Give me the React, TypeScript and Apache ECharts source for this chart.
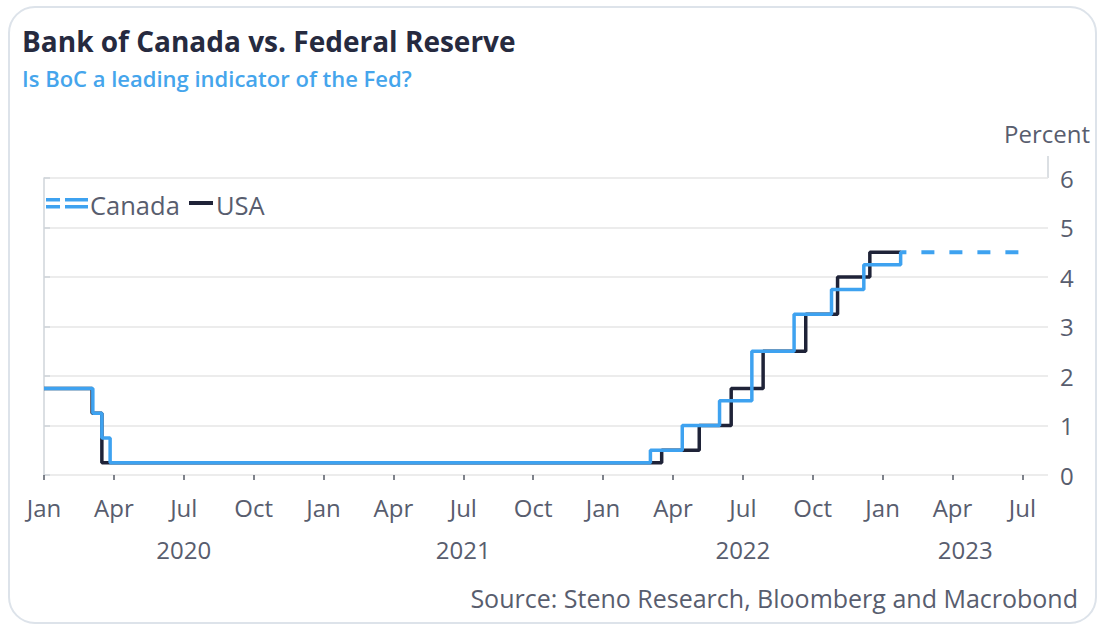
import React, { useEffect, useRef } from "react";
import * as echarts from "echarts";

const QUARTER_LABELS = ["Jan", "Apr", "Jul", "Oct"];
const YEAR_LABELS = ["2020", "2021", "2022", "2023"];

const canadaDates = [
  "2020-01-01", "2020-03-04", "2020-03-16", "2020-03-27", "2022-03-02", "2022-04-13",
  "2022-06-01", "2022-07-13", "2022-09-07", "2022-10-26", "2022-12-07", "2023-01-25", "2023-01-26",
];
const canadaRates = [1.75, 1.25, 0.75, 0.25, 0.5, 1.0, 1.5, 2.5, 3.25, 3.75, 4.25, 4.5, 4.5];

const canadaForecastDates = ["2023-01-26", "2023-07-05"];
const canadaForecastRates = [4.5, 4.5];

const usaDates = [
  "2020-01-01", "2020-03-03", "2020-03-16", "2022-03-17", "2022-05-05", "2022-06-16",
  "2022-07-28", "2022-09-22", "2022-11-03", "2022-12-15", "2023-01-26",
];
const usaRates = [1.75, 1.25, 0.25, 0.5, 1.0, 1.75, 2.5, 3.25, 4.0, 4.5, 4.5];

const X_MIN = 0;
const X_MAX = 43.1;

function toMonth(s: string): number {
  const [y, m, d] = s.split("-").map(Number);
  const dim = new Date(y, m, 0).getDate();
  return (y - 2020) * 12 + (m - 1) + (d - 1) / dim;
}

function pairs(dates: string[], vals: number[]) {
  return dates.map((d, i) => [toMonth(d), vals[i]]);
}

const BLUE = "#3ea2f0";
const NAVY = "#1f2338";
const LABEL = "#585d6e";
const FONT = "'Open Sans', 'Noto Sans', sans-serif";

export default function App() {
  const ref = useRef<HTMLDivElement>(null);
  useEffect(() => {
    if (!ref.current) return;
    const chart = echarts.init(ref.current, undefined, { renderer: "svg" });
    const quarterTicks: number[] = [];
    for (let v = 0; v <= X_MAX; v += 3) quarterTicks.push(v);
    const yearCenters = YEAR_LABELS.map((_, i) => {
      const s = i * 12;
      const e = Math.min((i + 1) * 12, X_MAX);
      return (s + e) / 2;
    });
    chart.setOption({
      animation: false,
      backgroundColor: "#ffffff",
      textStyle: { fontFamily: FONT },
      grid: { left: 44, right: 54, top: 178, bottom: 153, containLabel: false },
      xAxis: [
        {
          type: "value",
          min: X_MIN,
          max: X_MAX,
          interval: 3,
          axisLine: { show: false },
          splitLine: { show: false },
          axisTick: {
            show: true,
            length: 5,
            lineStyle: { color: "#555a66", width: 1.5 },
            customValues: quarterTicks,
          },
          axisLabel: {
            margin: 20,
            fontSize: 24,
            color: LABEL,
            fontFamily: FONT,
            customValues: quarterTicks,
            formatter: (v: number) => QUARTER_LABELS[Math.round(v / 3) % 4],
          },
        },
        {
          type: "value",
          position: "bottom",
          offset: 42,
          min: X_MIN,
          max: X_MAX,
          axisLine: { show: false },
          axisTick: { show: false },
          splitLine: { show: false },
          axisLabel: {
            margin: 20,
            fontSize: 24,
            color: LABEL,
            fontFamily: FONT,
            customValues: yearCenters,
            formatter: (v: number) => YEAR_LABELS[Math.floor(v / 12)] ?? "",
          },
        },
      ],
      yAxis: {
        type: "value",
        position: "right",
        min: 0,
        max: 6,
        interval: 1,
        axisLine: { show: true, lineStyle: { color: "#cfd4da", width: 1.5 } },
        axisTick: { show: true, length: 6, lineStyle: { color: "#cfd4da", width: 1.5 } },
        axisLabel: { margin: 12, fontSize: 24, color: LABEL, fontFamily: FONT },
        splitLine: { show: true, lineStyle: { color: "#e6e6e6", width: 1.5 } },
      },
      series: [
        {
          name: "USA",
          type: "line",
          step: "end",
          symbol: "none",
          data: pairs(usaDates, usaRates),
          lineStyle: { color: NAVY, width: 3.5 },
          itemStyle: { color: NAVY },
        },
        {
          name: "Canada",
          type: "line",
          step: "end",
          symbol: "none",
          data: pairs(canadaDates, canadaRates),
          lineStyle: { color: BLUE, width: 3.5 },
          itemStyle: { color: BLUE },
        },
        {
          name: "Canada forecast",
          type: "line",
          symbol: "none",
          data: pairs(canadaForecastDates, canadaForecastRates),
          lineStyle: { color: BLUE, width: 4, type: [13, 15], dashOffset: 8 },
          itemStyle: { color: BLUE },
        },
      ],
      graphic: [
        {
          type: "rect",
          shape: { x: 9, y: 7, width: 1087, height: 616, r: 26 },
          style: { fill: "none", stroke: "#dde3ea", lineWidth: 2 },
          silent: true,
          z: -10,
        },
        {
          type: "line",
          shape: { x1: 1048, y1: 156, x2: 1048, y2: 178 },
          style: { stroke: "#cfd4da", lineWidth: 1.5 },
          silent: true,
        },
        {
          type: "text",
          left: 22,
          top: 27,
          style: {
            text: "Bank of Canada vs. Federal Reserve",
            fontSize: 28,
            fontWeight: "bold",
            fill: "#262a3f",
            fontFamily: FONT,
          },
        },
        {
          type: "text",
          left: 22,
          top: 67,
          style: {
            text: "Is BoC a leading indicator of the Fed?",
            fontSize: 22,
            fontWeight: 600,
            fill: "#45a5ec",
            fontFamily: FONT,
          },
        },
        {
          type: "text",
          x: 1047,
          y: 133,
          style: {
            text: "Percent",
            fontSize: 24,
            fill: LABEL,
            fontFamily: FONT,
            align: "center",
            verticalAlign: "middle",
          },
        },
        // legend
        { type: "rect", shape: { x: 46, y: 198, width: 14, height: 3.5 }, style: { fill: BLUE } },
        { type: "rect", shape: { x: 65, y: 198, width: 23, height: 3.5 }, style: { fill: BLUE } },
        { type: "rect", shape: { x: 46, y: 205, width: 14, height: 3.5 }, style: { fill: BLUE } },
        { type: "rect", shape: { x: 65, y: 205, width: 23, height: 3.5 }, style: { fill: BLUE } },
        {
          type: "text",
          x: 90,
          y: 205,
          style: { text: "Canada", fontSize: 25.5, fill: LABEL, fontFamily: FONT, verticalAlign: "middle" },
        },
        { type: "rect", shape: { x: 189, y: 201, width: 24, height: 4 }, style: { fill: NAVY } },
        {
          type: "text",
          x: 216,
          y: 205,
          style: { text: "USA", fontSize: 25.5, fill: LABEL, fontFamily: FONT, verticalAlign: "middle" },
        },
        {
          type: "text",
          x: 1078,
          y: 598,
          style: {
            text: "Source: Steno Research, Bloomberg and Macrobond",
            fontSize: 25,
            fill: LABEL,
            fontFamily: FONT,
            align: "right",
            verticalAlign: "middle",
          },
        },
      ],
    });
    return () => chart.dispose();
  }, []);
  return (
    <div
      ref={ref}
      style={{ position: "absolute", left: 0, top: 0, width: 1102, height: 628, background: "#fff" }}
    />
  );
}
